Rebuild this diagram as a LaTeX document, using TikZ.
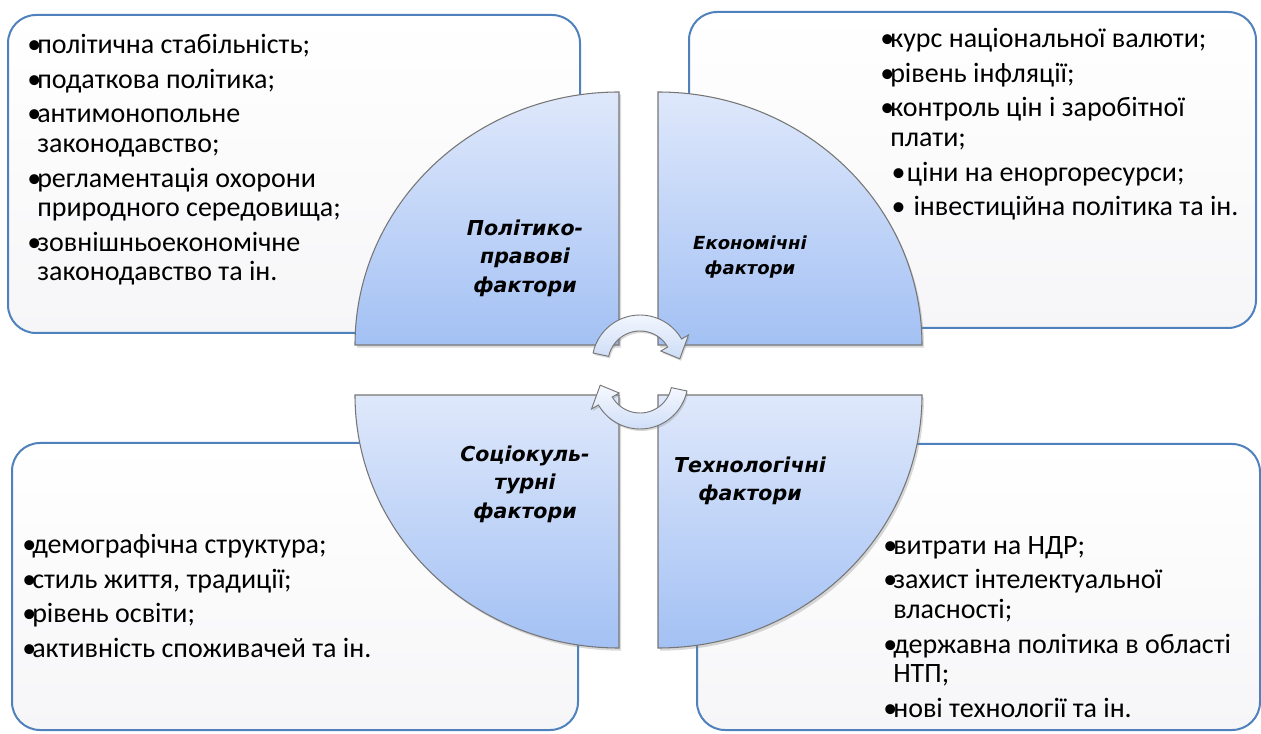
\documentclass[tikz,border=0pt]{standalone}
\usepackage{fontspec}
\setmainfont{Carlito}
\newfontfamily\titlefont{DejaVu Sans}
\usetikzlibrary{shadows}

\definecolor{boxblue}{RGB}{79,129,189}
\definecolor{boxgray}{RGB}{246,246,248}
\definecolor{quadtop}{RGB}{223,232,251}
\definecolor{quadbot}{RGB}{163,193,244}
\definecolor{quadline}{RGB}{118,118,118}
\definecolor{arrowtop}{RGB}{246,249,255}
\definecolor{arrowbot}{RGB}{204,220,246}

% bullet of a list line, and the indent of its wrapped part
\newcommand{\itm}{\makebox[7.5pt][l]{\textbullet}}
\newcommand{\ind}{\hspace*{7.5pt}}

\tikzset{
  factbox/.style={draw=boxblue, line width=1.5pt, rounded corners=21pt,
    top color=white, bottom color=boxgray},
  quadrant/.style={draw=quadline, line width=0.8pt, top color=quadtop,
    bottom color=quadbot,
    drop shadow={shadow xshift=1.5pt, shadow yshift=-2pt, opacity=0.3}},
  cyclearrow/.style={draw=quadline, line width=0.7pt, top color=arrowtop,
    bottom color=arrowbot,
    drop shadow={shadow xshift=1pt, shadow yshift=-1.5pt, opacity=0.3}},
  listtext/.style={anchor=north west, align=left, inner sep=0pt,
    font=\fontsize{21}{22.2}\selectfont, execute at begin node=\strut},
  title/.style={align=center, inner sep=0pt,
    font=\titlefont\bfseries\itshape\fontsize{15.4}{21.4}\selectfont}
}

\begin{document}
\begin{tikzpicture}[x=0.75pt, y=0.75pt]
  \useasboundingbox (0,0) rectangle (1261,733);

  % outer boxes with the lists
  \draw[factbox] (8,400) rectangle (580,718);
  \draw[factbox] (689,405) rectangle (1256,721);
  \draw[factbox] (12,3) rectangle (578,290);
  \draw[factbox] (697,3) rectangle (1260,289);

  % the four quarters of the circle
  \draw[quadrant] (619,388) -- (355,388) arc[start angle=180, end angle=90, x radius=264, y radius=253] -- cycle;
  \draw[quadrant] (658,388) -- (658,641) arc[start angle=90, end angle=0, x radius=264, y radius=253] -- cycle;
  \draw[quadrant] (619,338) -- (619,85) arc[start angle=270, end angle=180, x radius=264, y radius=253] -- cycle;
  \draw[quadrant] (658,338) -- (922,338) arc[start angle=0, end angle=-90, x radius=264, y radius=253] -- cycle;

  % round arrows in the middle
  \draw[cyclearrow, shift={(640,370)}] (168:48) arc[start angle=168, end angle=30, radius=48]
    -- (30:56) -- (6:40) -- (30:24) -- (30:32) arc[start angle=30, end angle=168, radius=32] -- cycle;
  \draw[cyclearrow, shift={(640,352)}, rotate=180] (168:48) arc[start angle=168, end angle=30, radius=48]
    -- (30:56) -- (6:40) -- (30:24) -- (30:32) arc[start angle=30, end angle=168, radius=32] -- cycle;

  \node[title] (polTitle) at (525,475) {Політико-\\правові\\фактори};
  \node[title, font=\titlefont\bfseries\itshape\fontsize{13.5}{18.8}\selectfont] (ecoTitle) at (750,476) {Економічні\\фактори};
  \node[title] (socTitle) at (525,249) {Соціокуль-\\турні\\фактори};
  \node[title] (techTitle) at (750,252) {Технологічні\\фактори};

  \node[listtext] (polList) at (27,699) {%
    \itm політична стабільність;\\[3.8pt]
    \itm податкова політика;\\[3.8pt]
    \itm антимонопольне\\
    \ind законодавство;\\[3.8pt]
    \itm регламентація охорони\\
    \ind природного середовища;\\[3.8pt]
    \itm зовнішньоекономічне\\
    \ind законодавство та ін.};
  \node[listtext] (ecoList) at (880,705) {%
    \itm курс національної валюти;\\[3.8pt]
    \itm рівень інфляції;\\[3.8pt]
    \itm контроль цін і заробітної\\
    \ind плати;\\[3.8pt]
    \hspace*{8.5pt}\makebox[11.5pt][l]{\textbullet}ціни на еноргоресурси;\\[3.8pt]
    \hspace*{8.5pt}\makebox[16.5pt][l]{\textbullet}інвестиційна політика та ін.};
  \node[listtext] (socList) at (22,199) {%
    \itm демографічна структура;\\[3.8pt]
    \itm стиль життя, традиції;\\[3.8pt]
    \itm рівень освіти;\\[3.8pt]
    \itm активність споживачей та ін.};
  \node[listtext] (techList) at (883,197) {%
    \itm витрати на НДР;\\[3.8pt]
    \itm захист інтелектуальної\\
    \ind власності;\\[3.8pt]
    \itm державна політика в області\\
    \ind НТП;\\[3.8pt]
    \itm нові технології та ін.};
\end{tikzpicture}
\end{document}
